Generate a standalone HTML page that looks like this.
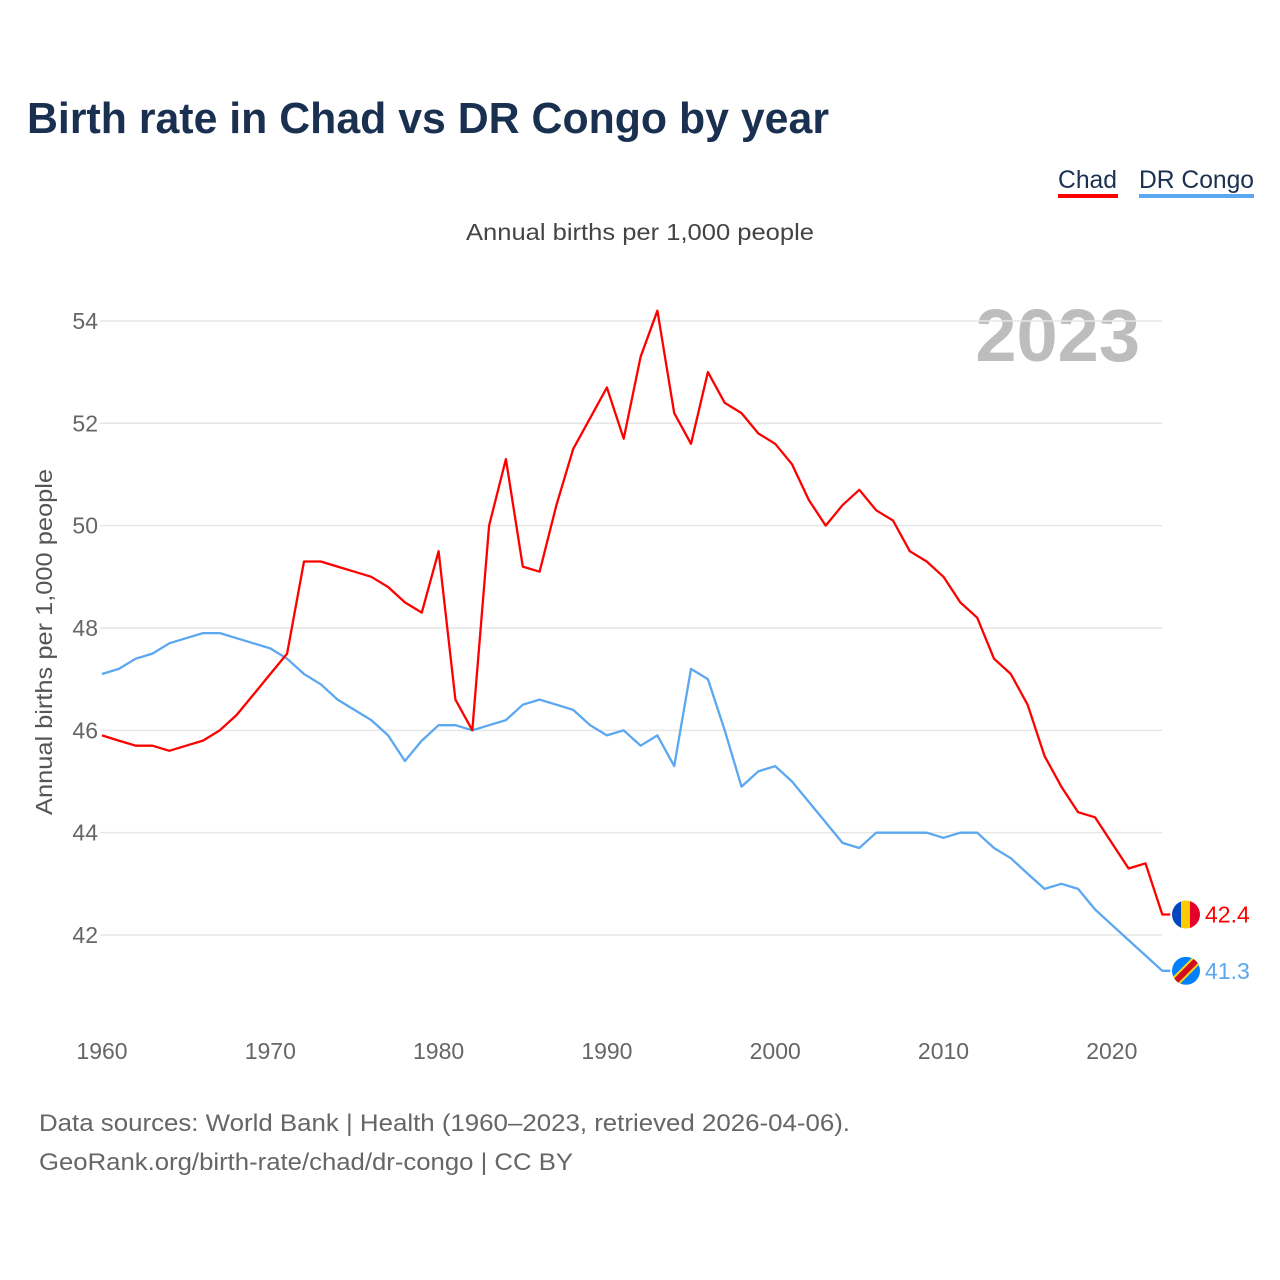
<!DOCTYPE html>
<html><head><meta charset="utf-8"><style>
body{margin:0;background:#fff;font-family:"Liberation Sans",sans-serif;}
#wrap{position:relative;width:1280px;height:1280px;overflow:hidden;}
</style></head><body>
<div id="wrap">
<svg id="chart" width="1280" height="1280"></svg>
</div>
<script>
const years=[];for(let y=1960;y<=2023;y++)years.push(y);
const chad=[45.9,45.8,45.7,45.7,45.6,45.7,45.8,46.0,46.3,46.7,47.1,47.5,49.3,49.3,49.2,49.1,49.0,48.8,48.5,48.3,49.5,46.6,46.0,50.0,51.3,49.2,49.1,50.4,51.5,52.1,52.7,51.7,53.3,54.2,52.2,51.6,53.0,52.4,52.2,51.8,51.6,51.2,50.5,50.0,50.4,50.7,50.3,50.1,49.5,49.3,49.0,48.5,48.2,47.4,47.1,46.5,45.5,44.9,44.4,44.3,43.8,43.3,43.4,42.4];
const drc=[47.1,47.2,47.4,47.5,47.7,47.8,47.9,47.9,47.8,47.7,47.6,47.4,47.1,46.9,46.6,46.4,46.2,45.9,45.4,45.8,46.1,46.1,46.0,46.1,46.2,46.5,46.6,46.5,46.4,46.1,45.9,46.0,45.7,45.9,45.3,47.2,47.0,46.0,44.9,45.2,45.3,45.0,44.6,44.2,43.8,43.7,44.0,44.0,44.0,44.0,43.9,44.0,44.0,43.7,43.5,43.2,42.9,43.0,42.9,42.5,42.2,41.9,41.6,41.3];
const yTicks=[42,44,46,48,50,52,54];
const xTicks=[1960,1970,1980,1990,2000,2010,2020];
const NS="http://www.w3.org/2000/svg";
const svg=document.getElementById('chart');
const xs=y=>102+(y-1960)*16.83;
const ys=v=>935-(v-42)*51.17;
function el(t,a,txt){const e=document.createElementNS(NS,t);for(const k in a)e.setAttribute(k,a[k]);if(txt!==undefined)e.textContent=txt;svg.appendChild(e);return e;}
let e;
e=el('text',{x:27,y:133,'font-size':44,'font-weight':'bold',fill:'#1a3050',textLength:802,lengthAdjust:'spacingAndGlyphs'},'Birth rate in Chad vs DR Congo by year');


e=el('text',{x:1058,y:188,'font-size':25,fill:'#1a3050',textLength:59,lengthAdjust:'spacingAndGlyphs'},'Chad');


e=el('rect',{x:1058,y:194,width:60,height:4,fill:'#ff0000'});


e=el('text',{x:1139,y:188,'font-size':25,fill:'#1a3050',textLength:115,lengthAdjust:'spacingAndGlyphs'},'DR Congo');


e=el('rect',{x:1139,y:194,width:115,height:4,fill:'#5ba7f0'});


e=el('text',{x:466,y:240,'font-size':23,fill:'#444',textLength:348,lengthAdjust:'spacingAndGlyphs'},'Annual births per 1,000 people');


e=el('text',{x:52,y:815,'font-size':23,fill:'#555',textLength:346,lengthAdjust:'spacingAndGlyphs',transform:'rotate(-90 52 815)'},'Annual births per 1,000 people');


e=el('text',{x:1140,y:361,'font-size':74,'font-weight':'bold',fill:'#bdbdbd','text-anchor':'end'},'2023');


yTicks.forEach(t=>{
  const g=el('line',{x1:100,x2:1162,y1:ys(t),y2:ys(t),stroke:'#e6e6e6','stroke-width':1.5});
  
  
  const l=el('text',{x:98,y:ys(t)+8,'font-size':23,fill:'#666','text-anchor':'end'},String(t));
  
  
});
xTicks.forEach(t=>{
  const l=el('text',{x:xs(t),y:1059,'font-size':23,fill:'#666','text-anchor':'middle'},String(t));
  
  
});
function line(data,col,name){
  let d=data.map((v,i)=>(i?'L':'M')+xs(years[i]).toFixed(1)+','+ys(v).toFixed(1)).join(' ');
  d+=' L'+(xs(2023)+8)+','+ys(data[data.length-1]).toFixed(1);
  const p=el('path',{d:d,fill:'none',stroke:col,'stroke-width':2.3,'stroke-linejoin':'round'});
  
  
}
line(drc,'#5ba7f0','dr-congo-line');
line(chad,'#ff0000','chad-line');
const cy=ys(chad[chad.length-1]),dy=ys(drc[drc.length-1]);
e=el('g',{});


e.innerHTML=`<clipPath id="c1"><circle cx="1186" cy="${cy}" r="14"/></clipPath><g clip-path="url(#c1)"><rect x="1172" y="${cy-14}" width="10" height="28" fill="#0047bb"/><rect x="1181" y="${cy-14}" width="10" height="28" fill="#fecb00"/><rect x="1190" y="${cy-14}" width="10" height="28" fill="#e4002b"/></g>`;
e=el('g',{});


e.innerHTML=`<clipPath id="c2"><circle cx="1186" cy="${dy}" r="14"/></clipPath><g clip-path="url(#c2)"><rect x="1172" y="${dy-14}" width="28" height="28" fill="#007fff"/><line x1="1170" y1="${dy+16}" x2="1202" y2="${dy-16}" stroke="#f7d618" stroke-width="10"/><line x1="1170" y1="${dy+16}" x2="1202" y2="${dy-16}" stroke="#ce1021" stroke-width="6"/></g>`;
e=el('text',{x:1205,y:cy+8,'font-size':23,fill:'#ff0000'},chad[chad.length-1].toFixed(1));


e=el('text',{x:1205,y:dy+8,'font-size':23,fill:'#5ba7f0'},drc[drc.length-1].toFixed(1));


e=el('text',{x:39,y:1131,'font-size':24,fill:'#666',textLength:811,lengthAdjust:'spacingAndGlyphs'},'Data sources: World Bank | Health (1960–2023, retrieved 2026-04-06).');


e=el('text',{x:39,y:1170,'font-size':24,fill:'#666',textLength:534,lengthAdjust:'spacingAndGlyphs'},'GeoRank.org/birth-rate/chad/dr-congo | CC BY');


</script>
</body></html>
